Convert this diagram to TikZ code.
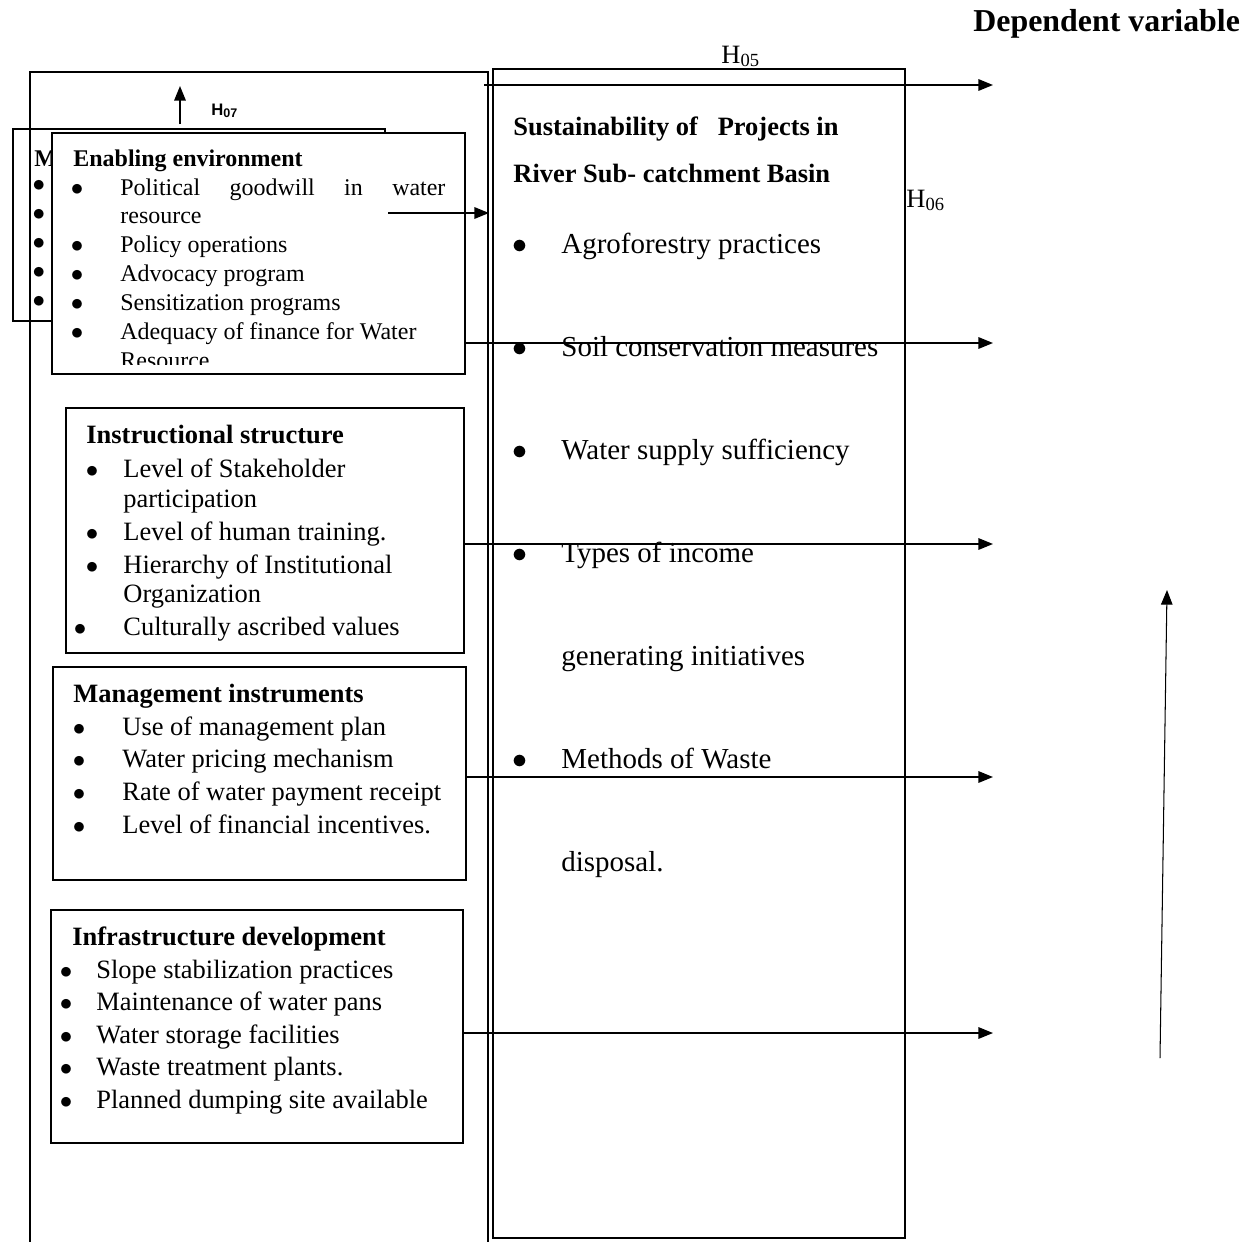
\documentclass[tikz,border=0pt]{standalone}
\usepackage{fontspec}
\setmainfont{Liberation Serif}
\newfontfamily\arialfont{Liberation Sans}
\usetikzlibrary{arrows.meta,fit,positioning}

\tikzset{
  box/.style={draw,line width=0.8pt,inner sep=0pt},
  arr/.style={line width=0.8pt,-{Triangle[length=7pt,width=5.5pt]}},
  txt/.style={anchor=base west,inner sep=0pt,font=\fontsize{12.7}{15}\selectfont},
  smalltxt/.style={anchor=base west,inner sep=0pt,font=\fontsize{11.5}{14}\selectfont},
  bigtxt/.style={anchor=base west,inner sep=0pt,font=\fontsize{13.9}{16}\selectfont},
  headtxt/.style={anchor=base west,inner sep=0pt,font=\bfseries\fontsize{12.7}{15}\selectfont},
  bul/.style={anchor=base,inner sep=0pt,font=\fontsize{12.7}{15}\selectfont},
  smallbul/.style={bul,font=\fontsize{11.5}{14}\selectfont},
  bigbul/.style={bul,font=\fontsize{13.9}{16}\selectfont}
}
\newcommand\itemdot{$\bullet$}

\begin{document}
\begin{tikzpicture}[x=0.48pt,y=-0.48pt]
\useasboundingbox (0,0) rectangle (1251,1241);

\node[box,fit={(30,72) (488,1270)}] (outer) {};
\node[box,fit={(493,69) (905,1238)}] (dep) {};

% box hidden behind the enabling box
\node[box,fit={(13,129) (385,321)}] (mbox) {};
\node[headtxt,font=\bfseries\fontsize{11.5}{14}\selectfont] (mhead) at (34,166) {M};
\foreach \y in {191,220,249,278,307}
  \node[smallbul] at (39,\y) {\itemdot};

% enabling environment
\node[box,fill=white,fit={(52,133) (465,374)}] (enab) {};
\begin{scope}
\clip (enab.north west) rectangle (465,364);
\node[headtxt,font=\bfseries\fontsize{11.5}{14}\selectfont] (enabhead) at (73,166) {Enabling environment};
\foreach \y in {195,252,281,310,339}
  \node[smallbul] at (77,\y) {\itemdot};
\node[smalltxt] (enab1) at (120,195) {\makebox[156pt][s]{Political goodwill in water}};
\foreach \y/\t in {223/resource,252/Policy operations,281/Advocacy program,
    310/Sensitization programs,339/Adequacy of finance for Water,368/Resource}
  \node[smalltxt] at (120,\y) {\t};
\end{scope}

% instructional structure
\node[box,fit={(66,408) (464,653)}] (inst) {};
\node[headtxt] (insthead) at (86,443) {Instructional structure};
\foreach \x/\y in {92/477,92/540,92/573,80/635}
  \node[bul] at (\x,\y) {\itemdot};
\foreach \y/\t in {477/Level of Stakeholder,507/participation,540/Level of human training.,
    573/Hierarchy of Institutional,602/Organization,635/Culturally ascribed values}
  \node[txt] at (123,\y) {\t};

% management instruments
\node[box,fit={(53,667) (466,880)}] (mgmt) {};
\node[headtxt] (mgmthead) at (73,702) {Management instruments};
\foreach \y/\t in {735/Use of management plan,767/Water pricing mechanism,
    800/Rate of water payment receipt,833/Level of financial incentives.}{
  \node[bul] at (79,\y) {\itemdot};
  \node[txt] at (122,\y) {\t};
}

% infrastructure development
\node[box,fit={(51,910) (463,1143)}] (infra) {};
\node[headtxt] (infrahead) at (72,945) {Infrastructure development};
\foreach \y/\t in {978/Slope stabilization practices,1010/Maintenance of water pans,
    1043/Water storage facilities,1075/Waste treatment plants.,1108/Planned dumping site available}{
  \node[bul] at (66,\y) {\itemdot};
  \node[txt] at (96,\y) {\t};
}

% dependent variable
\node[headtxt] (dephead1) at (513,135) {Sustainability of~~~Projects in};
\node[headtxt] (dephead2) at (513,182) {River Sub- catchment Basin};
\foreach \y in {253,356,459,562,768}
  \node[bigbul] at (520,\y) {\itemdot};
\foreach \y/\t in {253/Agroforestry practices,356/Soil conservation measures,
    459/Water supply sufficiency,562/Types of income,665/generating initiatives,
    768/Methods of Waste,871/disposal.}
  \node[bigtxt] at (561,\y) {\t};

\node[anchor=base west,inner sep=0pt,font=\bfseries\fontsize{15.3}{18}\selectfont] (deplabel) at (973,31) {Dependent variable};
\node[txt] (h5) at (721,63) {H\textsubscript{05}};
\node[txt] (h6) at (906,207) {H\textsubscript{06}};
\node[anchor=base west,inner sep=0pt,font=\arialfont\bfseries\fontsize{8}{10}\selectfont] (h7) at (211,115) {H\textsubscript{07}};

% connectors
\path coordinate (h7s) at (180,124)
      coordinate (h7e) at (180,86)
      coordinate (h5s) at (484,85)
      coordinate (h5e) at (993,85)
      coordinate (e1) at (388,213)
      coordinate (e2) at (489,213)
      coordinate (t1) at (993,343)
      coordinate (t2) at (993,544)
      coordinate (t3) at (993,777)
      coordinate (t4) at (993,1033)
      coordinate (v1) at (1160,1058)
      coordinate (v2) at (1167,590);
\draw[arr] (h7s) -- (h7e);
\draw[arr] (h5s) -- (h5e);
\draw[arr] (e1) -- (e2);
\draw[arr] (enab.east |- t1) -- (t1);
\draw[arr] (inst.east |- t2) -- (t2);
\draw[arr] (mgmt.east |- t3) -- (t3);
\draw[arr] (infra.east |- t4) -- (t4);
\draw[arr,line width=0.5pt] (v1) -- (v2);
\end{tikzpicture}
\end{document}
